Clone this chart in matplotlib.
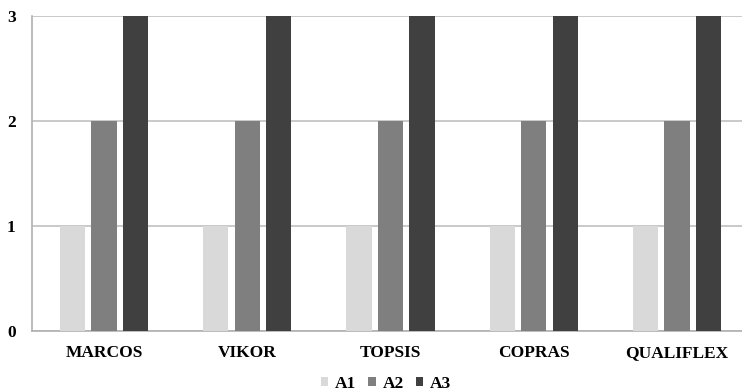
import numpy as np
import matplotlib
matplotlib.use('Agg')
import matplotlib.pyplot as plt

methods = ["MARCOS", "VIKOR", "TOPSIS", "COPRAS", "QUALIFLEX"]
a1 = [1, 1, 1, 1, 1]
a2 = [2, 2, 2, 2, 2]
a3 = [3, 3, 3, 3, 3]
series_names = ["A1", "A2", "A3"]
colors = ["#d9d9d9", "#7f7f7f", "#404040"]

plt.rcParams['font.family'] = ['Liberation Serif', 'DejaVu Serif']

fig = plt.figure(figsize=(7.42, 3.92), dpi=100)
ax = fig.add_axes([32.4 / 742, 1 - 331 / 392, (748.6 - 32.4) / 742, (331 - 16) / 392])

x = np.arange(len(methods))
width = 0.176
offset = 0.22
for i, (vals, name, c) in enumerate(zip([a1, a2, a3], series_names, colors)):
    ax.bar(x + (i - 1) * offset, vals, width, color=c, label=name, zorder=3)

ax.set_xlim(-0.5, len(methods) - 0.5)
ax.set_ylim(0, 3)
ax.set_yticks([0, 1, 2, 3])
ax.grid(axis='y', color='#c0c0c0', linewidth=1.2, zorder=0)
for s in ['top', 'right']:
    ax.spines[s].set_visible(False)
ax.spines['left'].set_color('#b0b0b0')
ax.spines['bottom'].set_color('#b0b0b0')
ax.spines['left'].set_linewidth(1.2)
ax.spines['bottom'].set_linewidth(1.2)
ax.tick_params(length=0, labelsize=12.5)
ax.tick_params(axis='y', pad=12)
ax.tick_params(axis='x', pad=10)
ax.set_xticks(x)
ax.set_xticklabels(methods, fontweight='bold')
for lbl in ax.get_yticklabels():
    lbl.set_fontweight('bold')

fig.legend(loc='center', bbox_to_anchor=(386 / 742, 1 - 384 / 392), ncol=3,
           frameon=False, prop={'weight': 'bold', 'size': 12.5},
           handlelength=0.42, handleheight=0.42, handletextpad=0.4, columnspacing=0.7,
           borderpad=0.1)

fig.savefig("out.png", dpi=100)
